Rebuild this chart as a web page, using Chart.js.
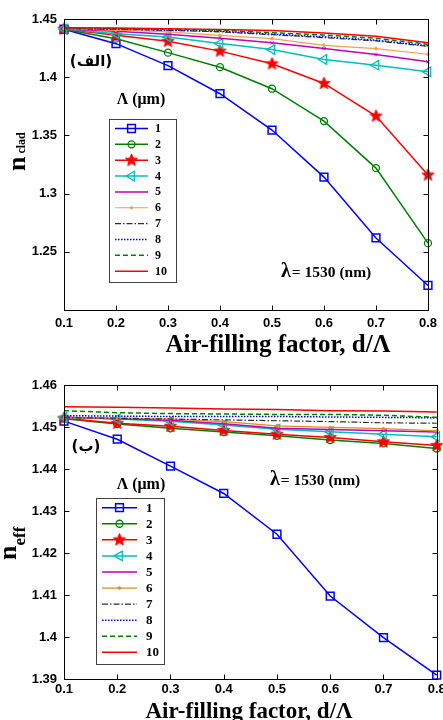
<!DOCTYPE html>
<html><head><meta charset="utf-8">
<script src="https://cdn.jsdelivr.net/npm/chart.js@4.4.1/dist/chart.umd.min.js"></script>
<style>
html,body{margin:0;padding:0;background:#fff;overflow:hidden;width:443px;height:720px;position:relative;}
#w1{position:absolute;left:0;top:0;width:443px;height:360px;}
#w2{position:absolute;left:0;top:360px;width:480px;height:360px;}
canvas{display:block}
</style></head><body>
<div id="w1"><canvas id="c1" width="443" height="360"></canvas></div>
<div id="w2"><canvas id="c2" width="480" height="360"></canvas></div>
<script>
// ---------- data ----------
const xValues = [0.1, 0.2, 0.3, 0.4, 0.5, 0.6, 0.7, 0.8];
const xTickLabels = ['0.1', '0.2', '0.3', '0.4', '0.5', '0.6', '0.7', '0.8'];
const seriesNames = ['1', '2', '3', '4', '5', '6', '7', '8', '9', '10'];

// n_clad (top panel)
const cladL1  = [1.4412, 1.4288, 1.4100, 1.3858, 1.3546, 1.3142, 1.2619, 1.2211];
const cladL2  = [1.4412, 1.4331, 1.4211, 1.4086, 1.3901, 1.3623, 1.3219, 1.2574];
const cladL3  = [1.4413, 1.4360, 1.4308, 1.4224, 1.4115, 1.3946, 1.3666, 1.3159];
const cladL4  = [1.4414, 1.4374, 1.4346, 1.4289, 1.4237, 1.4152, 1.4103, 1.4046];
const cladL5  = [1.4415, 1.4395, 1.4370, 1.4335, 1.4295, 1.4246, 1.4194, 1.4132];
const cladL6  = [1.4416, 1.4405, 1.4389, 1.4360, 1.4331, 1.4274, 1.4246, 1.4197];
const cladL7  = [1.4418, 1.4412, 1.4402, 1.4390, 1.4365, 1.4340, 1.4312, 1.4265];
const cladL8  = [1.4419, 1.4415, 1.4406, 1.4395, 1.4370, 1.4347, 1.4318, 1.4270];
const cladL9  = [1.4421, 1.4418, 1.4412, 1.4403, 1.4382, 1.4363, 1.4334, 1.4283];
const cladL10 = [1.4425, 1.4422, 1.4417, 1.4410, 1.4402, 1.4380, 1.4351, 1.4295];
const cladYTickLabels = ['1.25', '1.3', '1.35', '1.4', '1.45'];

// n_eff (bottom panel)
const effL1  = [1.4514, 1.4471, 1.4407, 1.4342, 1.4245, 1.4098, 1.3999, 1.3910];
const effL2  = [1.4520, 1.4507, 1.4497, 1.4488, 1.4479, 1.4469, 1.4461, 1.4449];
const effL3  = [1.4521, 1.4509, 1.4502, 1.4492, 1.4483, 1.4475, 1.4465, 1.4456];
const effL4  = [1.4523, 1.4519, 1.4514, 1.4505, 1.4495, 1.4489, 1.4483, 1.4477];
const effL5  = [1.4523, 1.4520, 1.4516, 1.4508, 1.4497, 1.4494, 1.4491, 1.4488];
const effL6  = [1.4522, 1.4521, 1.4519, 1.4513, 1.4503, 1.4499, 1.4496, 1.4491];
const effL7  = [1.4522, 1.4521, 1.4519, 1.4517, 1.4515, 1.4513, 1.4510, 1.4509];
const effL8  = [1.4527, 1.4526, 1.4525, 1.4525, 1.4525, 1.4524, 1.4523, 1.4522];
const effL9  = [1.4539, 1.4534, 1.4532, 1.4531, 1.4530, 1.4530, 1.4528, 1.4523];
const effL10 = [1.4548, 1.4547, 1.4545, 1.4543, 1.4542, 1.4539, 1.4538, 1.4536];
const effYTickLabels = ['1.39', '1.4', '1.41', '1.42', '1.43', '1.44', '1.45', '1.46'];

// texts
const legendTitle = 'Λ (μm)';
const topTag = '(الف)';
const bottomTag = '(ب)';
const lambdaSymbol = 'λ';
const lambdaText = '= 1530 (nm)';
const xTitle = 'Air-filling factor, d/Λ';

const cladSeries = [cladL1, cladL2, cladL3, cladL4, cladL5, cladL6, cladL7, cladL8, cladL9, cladL10];
const effSeries = [effL1, effL2, effL3, effL4, effL5, effL6, effL7, effL8, effL9, effL10];

// ---------- styling ----------
const SERIF = '"Liberation Serif", "Times New Roman", serif';
const SANS = '"Liberation Sans", Arial, sans-serif';

function makeStar(r, color) {
  const s = Math.ceil(r * 2 + 2);
  const c = document.createElement('canvas');
  c.width = s; c.height = s;
  const g = c.getContext('2d');
  g.fillStyle = color;
  g.strokeStyle = color;
  g.lineWidth = 0.8;
  g.beginPath();
  for (let i = 0; i < 10; i++) {
    const ang = -Math.PI / 2 + i * Math.PI / 5;
    const rr = (i % 2 === 0) ? r : r * 0.45;
    g.lineTo(s / 2 + rr * Math.cos(ang), s / 2 + rr * Math.sin(ang));
  }
  g.closePath(); g.fill(); g.stroke();
  return c;
}
const STAR = makeStar(6.5, '#ff0000');
const NONE = 'rgba(0,0,0,0)';

function styleList(orange) {
  return [
    {c: '#0000ff', w: 1.5, d: [], ps: 'rect', r: 5.5, bg: NONE, bw: 1.5},
    {c: '#008000', w: 1.5, d: [], ps: 'circle', r: 3.5, bg: NONE, bw: 1.3},
    {c: '#ff0000', w: 1.5, d: [], ps: STAR, r: 6.5, bg: '#ff0000', bw: 1},
    {c: '#00bfbf', w: 1.5, d: [], ps: 'triangle', rot: -90, r: 5.5, bg: NONE, bw: 1.3},
    {c: '#bf00bf', w: 1.5, d: [], ps: 'crossRot', r: 2.2, bg: '#bf00bf', bw: 1, lp: false},
    {c: orange, w: 1.2, d: [], ps: 'circle', r: 1.3, bg: orange, bw: 1},
    {c: '#303030', w: 1.2, d: [6, 2, 1.5, 2], ps: false, r: 0},
    {c: '#0000ff', w: 1.5, d: [1.5, 1.5], ps: false, r: 0},
    {c: '#008000', w: 1.5, d: [5, 3], ps: false, r: 0},
    {c: '#ff0000', w: 1.5, d: [], ps: false, r: 0}
  ];
}

function buildDatasets(series, orange) {
  const st = styleList(orange);
  return series.map((arr, i) => ({
    label: seriesNames[i],
    data: xValues.map((x, k) => ({x: x, y: arr[k]})),
    borderColor: st[i].c,
    borderWidth: st[i].w,
    borderDash: st[i].d,
    pointStyle: st[i].ps,
    pointRadius: st[i].r,
    pointRotation: st[i].rot || 0,
    pointBackgroundColor: st[i].bg || NONE,
    pointBorderColor: st[i].c,
    pointBorderWidth: st[i].bw || 1,
    legendPoint: st[i].lp !== false,
    fill: false,
    tension: 0,
    clip: false,
    order: 10 - i
  }));
}

function labelFrom(list) {
  return (v) => {
    const i = list.findIndex(t => Math.abs(parseFloat(t) - v) < 1e-6);
    return i < 0 ? '' : list[i];
  };
}

function line(ctx, x1, y1, x2, y2) {
  ctx.beginPath(); ctx.moveTo(x1, y1); ctx.lineTo(x2, y2); ctx.stroke();
}

const decoPlugin = {
  id: 'deco',
  afterDatasetsDraw(chart, args, o) {
    const ctx = chart.ctx, a = chart.chartArea;
    const xs = chart.scales.x, ys = chart.scales.y;
    ctx.save();
    ctx.strokeStyle = '#000';
    ctx.lineWidth = 1;
    const L = Math.round(a.left) + 0.5, R = Math.round(a.right) + 0.5;
    const T = Math.round(a.top) + 0.5, B = Math.round(a.bottom) + 0.5;
    ctx.strokeRect(L, T, R - L, B - T);
    const tl = 5;
    xs.ticks.forEach(t => {
      const px = Math.round(xs.getPixelForValue(t.value)) + 0.5;
      line(ctx, px, B, px, B - tl);
      line(ctx, px, T, px, T + tl);
    });
    ys.ticks.forEach(t => {
      const py = Math.round(ys.getPixelForValue(t.value)) + 0.5;
      line(ctx, L, py, L + tl, py);
      line(ctx, R, py, R - tl, py);
    });

    // legend
    const G = o.legend;
    ctx.fillStyle = '#fff';
    ctx.fillRect(G.x, G.y, G.w, G.h);
    ctx.strokeStyle = '#404040';
    ctx.lineWidth = 1;
    ctx.strokeRect(G.x + 0.5, G.y + 0.5, G.w, G.h);
    ctx.fillStyle = '#000';
    ctx.font = 'bold ' + G.titleSize + 'px ' + SERIF;
    ctx.textAlign = 'center';
    ctx.textBaseline = 'middle';
    ctx.fillText(legendTitle, G.titleX, G.titleY);
    chart.data.datasets.forEach((ds, i) => {
      const y = G.row0 + i * G.step;
      ctx.strokeStyle = ds.borderColor;
      ctx.lineWidth = ds.borderWidth;
      ctx.setLineDash(ds.borderDash || []);
      line(ctx, G.lx1, y, G.lx2, y);
      ctx.setLineDash([]);
      if (ds.pointStyle && ds.legendPoint && ds.pointRadius > 0) {
        ctx.fillStyle = ds.pointBackgroundColor;
        ctx.strokeStyle = ds.pointBorderColor;
        ctx.lineWidth = ds.pointBorderWidth;
        Chart.helpers.drawPoint(ctx, {
          pointStyle: ds.pointStyle, rotation: ds.pointRotation,
          radius: ds.pointRadius, borderWidth: ds.pointBorderWidth
        }, (G.lx1 + G.lx2) / 2, y);
      }
      ctx.fillStyle = '#000';
      ctx.font = 'bold ' + G.labelSize + 'px ' + SERIF;
      ctx.textAlign = 'left';
      ctx.textBaseline = 'middle';
      ctx.fillText(ds.label, G.labelX, y + 0.5);
    });

    // tag (Arabic)
    ctx.fillStyle = '#000';
    ctx.font = 'bold ' + o.tag.size + 'px "DejaVu Sans", sans-serif';
    ctx.textAlign = 'center';
    ctx.textBaseline = 'middle';
    ctx.direction = 'rtl';
    ctx.fillText(o.tag.text, o.tag.x, o.tag.y);
    ctx.direction = 'ltr';

    // lambda annotation
    ctx.textAlign = 'left';
    ctx.textBaseline = 'alphabetic';
    ctx.font = 'bold ' + o.lam.big + 'px ' + SERIF;
    ctx.fillText(lambdaSymbol, o.lam.x, o.lam.y);
    const lw = ctx.measureText(lambdaSymbol).width;
    ctx.font = 'bold ' + o.lam.small + 'px ' + SERIF;
    ctx.fillText(lambdaText, o.lam.x + lw + 1, o.lam.y);

    // x title
    ctx.textAlign = 'center';
    ctx.font = 'bold ' + o.xt.size + 'px ' + SERIF;
    ctx.fillText(xTitle, o.xt.x, o.xt.y);

    // y title (rotated)
    ctx.save();
    ctx.translate(o.yt.x, o.yt.y);
    ctx.rotate(-Math.PI / 2);
    ctx.textAlign = 'left';
    ctx.textBaseline = 'alphabetic';
    ctx.font = 'bold ' + o.yt.mainSize + 'px ' + SERIF;
    ctx.fillText(o.yt.main, 0, 0);
    const mw = ctx.measureText(o.yt.main).width;
    ctx.font = 'bold ' + o.yt.subSize + 'px ' + SERIF;
    ctx.fillText(o.yt.sub, mw + o.yt.gap, o.yt.subDrop);
    ctx.restore();

    ctx.restore();
  }
};

function makeChart(id, series, orange, yMin, yMax, yStep, yLabels, pad, xh, xpad, deco) {
  return new Chart(document.getElementById(id), {
    type: 'line',
    data: {datasets: buildDatasets(series, orange)},
    options: {
      responsive: false,
      animation: false,
      events: [],
      layout: {padding: pad},
      plugins: {legend: {display: false}, tooltip: {enabled: false}, deco: deco},
      scales: {
        x: {
          type: 'linear', min: 0.1, max: 0.8,
          grid: {display: false, drawTicks: false}, border: {display: false},
          ticks: {stepSize: 0.1, padding: xpad, color: '#000', maxRotation: 0, autoSkip: false,
                  font: {family: SANS, weight: 'bold', size: 13},
                  callback: labelFrom(xTickLabels)},
          afterFit(s) { s.height = xh; }
        },
        y: {
          type: 'linear', min: yMin, max: yMax,
          grid: {display: false, drawTicks: false}, border: {display: false},
          ticks: {stepSize: yStep, padding: 7, color: '#000', autoSkip: false,
                  font: {family: SANS, weight: 'bold', size: 13},
                  callback: labelFrom(yLabels)},
          afterFit(s) { s.width = 64; }
        }
      }
    },
    plugins: [decoPlugin]
  });
}

makeChart('c1', cladSeries, '#f0a050', 1.2, 1.45, 0.05, cladYTickLabels,
  {top: 19, right: 12, left: 0, bottom: 0}, 50, 6, {
    legend: {x: 109, y: 119, w: 67, h: 163, titleX: 141, titleY: 100, titleSize: 16,
             row0: 128.5, step: 15.85, lx1: 115, lx2: 148, labelX: 155, labelSize: 12},
    tag: {text: topTag, x: 91, y: 62, size: 15},
    lam: {x: 281, y: 277, big: 20, small: 15.5},
    xt: {x: 278, y: 352, size: 25},
    yt: {x: 25, y: 171, main: 'n', mainSize: 26, sub: 'clad', subSize: 12, gap: 3, subDrop: 0}
  });

makeChart('c2', effSeries, '#e08a20', 1.39, 1.46, 0.01, effYTickLabels,
  {top: 25, right: 43.3, left: 0, bottom: 0}, 40.7, 2, {
    legend: {x: 96, y: 138, w: 68, h: 166, titleX: 141, titleY: 125, titleSize: 16,
             row0: 147.7, step: 16.07, lx1: 102, lx2: 137, labelX: 146, labelSize: 13},
    tag: {text: bottomTag, x: 86, y: 87, size: 15},
    lam: {x: 270, y: 125, big: 20, small: 15.5},
    xt: {x: 249, y: 358, size: 23},
    yt: {x: 16, y: 200, main: 'n', mainSize: 26, sub: 'eff', subSize: 17, gap: 0, subDrop: 9}
  });
</script>
</body></html>
